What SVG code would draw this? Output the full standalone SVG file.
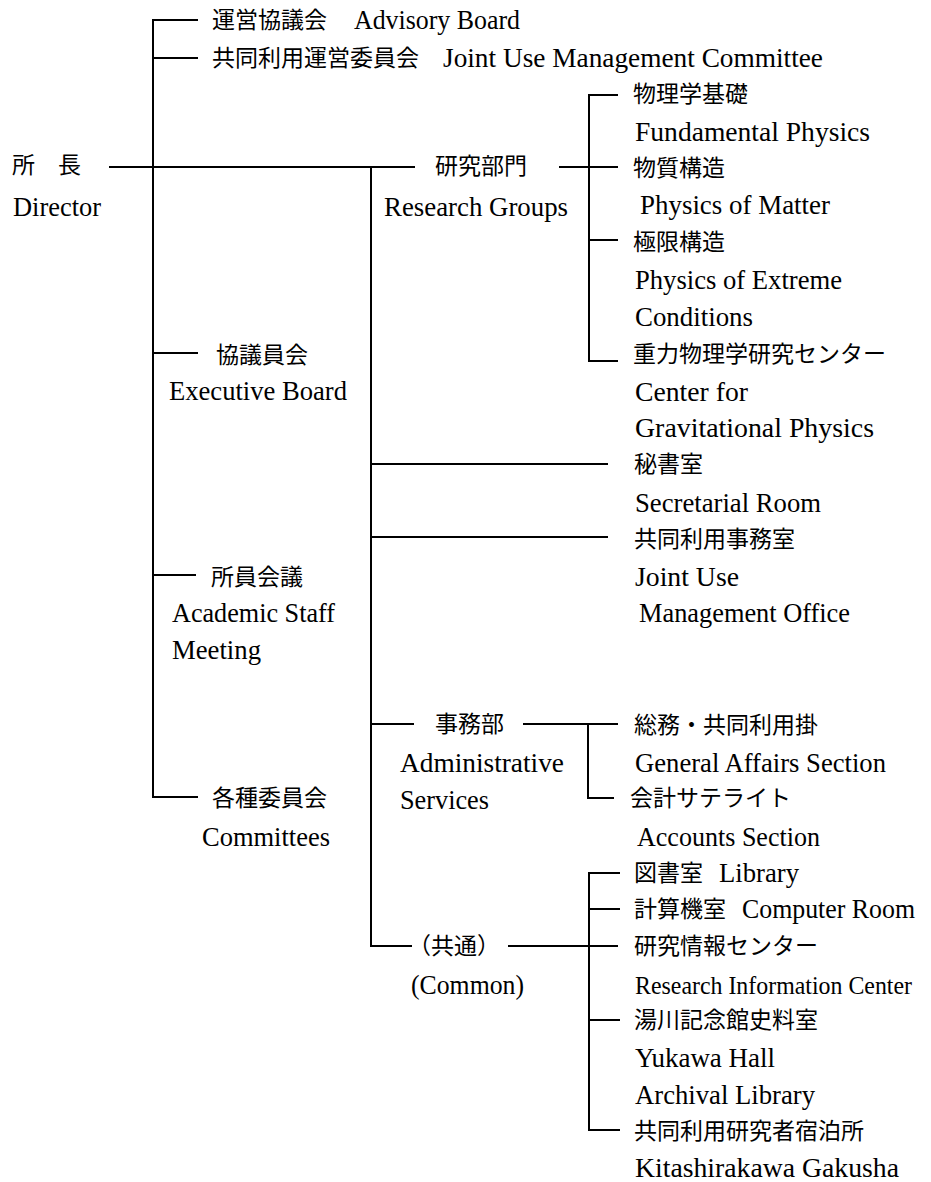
<svg xmlns="http://www.w3.org/2000/svg" width="931" height="1182" viewBox="0 0 931 1182">
<style>
.ln{stroke:#000;stroke-width:2;fill:none;stroke-linecap:square}
text{font-family:"Liberation Serif","Noto Sans CJK JP",serif;fill:#000;dominant-baseline:central}
.j{font-size:23px}
.e{font-size:26.5px}
.c{font-size:24.5px}
</style>
<rect width="931" height="1182" fill="#fff"/>
<g id="connectors">
<path class="ln" d="M197 20H153V797H197"/>
<path class="ln" d="M153 58H197"/>
<path class="ln" d="M153 353H197"/>
<path class="ln" d="M153 575H195"/>
<path class="ln" d="M110 167H414"/>
<path class="ln" d="M371 167V946H411"/>
<path class="ln" d="M560 167H617"/>
<path class="ln" d="M617 95H589V361H617"/>
<path class="ln" d="M589 240H617"/>
<path class="ln" d="M371 464H607"/>
<path class="ln" d="M371 537H607"/>
<path class="ln" d="M371 724H413"/>
<path class="ln" d="M524 724H617"/>
<path class="ln" d="M588 724V798H613"/>
<path class="ln" d="M509 946H617"/>
<path class="ln" d="M619 873H589V1130H619"/>
<path class="ln" d="M589 909H619"/>
<path class="ln" d="M589 1020H619"/>
</g>
<g id="advisory"><text class="j" x="212" y="20">運営協議会</text><text class="e" x="354" y="20" textLength="166" lengthAdjust="spacingAndGlyphs">Advisory Board</text></g>
<g id="joint-committee"><text class="j" x="212" y="58">共同利用運営委員会</text><text class="e" x="443" y="58" textLength="380" lengthAdjust="spacingAndGlyphs">Joint Use Management Committee</text></g>
<g id="director"><text class="j" x="12" y="165">所　長</text><text class="e" x="13" y="207" textLength="88" lengthAdjust="spacingAndGlyphs">Director</text></g>
<g id="research"><text class="j" x="435" y="166">研究部門</text><text class="e" x="384" y="207" textLength="184" lengthAdjust="spacingAndGlyphs">Research Groups</text></g>
<g id="fundamental"><text class="j" x="633" y="94">物理学基礎</text><text class="e" x="635" y="132" textLength="235" lengthAdjust="spacingAndGlyphs">Fundamental Physics</text></g>
<g id="matter"><text class="j" x="633" y="168">物質構造</text><text class="e" x="640" y="205" textLength="190" lengthAdjust="spacingAndGlyphs">Physics of Matter</text></g>
<g id="extreme"><text class="j" x="633" y="242">極限構造</text><text class="e" x="635" y="280" textLength="207" lengthAdjust="spacingAndGlyphs">Physics of Extreme</text><text class="e" x="635" y="317" textLength="118" lengthAdjust="spacingAndGlyphs">Conditions</text></g>
<g id="gravity"><text class="j" x="633" y="354">重力物理学研究センター</text><text class="e" x="635" y="392" textLength="113" lengthAdjust="spacingAndGlyphs">Center for</text><text class="e" x="635" y="428" textLength="239" lengthAdjust="spacingAndGlyphs">Gravitational Physics</text></g>
<g id="executive"><text class="j" x="216" y="355">協議員会</text><text class="e" x="169" y="391" textLength="178" lengthAdjust="spacingAndGlyphs">Executive Board</text></g>
<g id="staff"><text class="j" x="211" y="577">所員会議</text><text class="e" x="172" y="613" textLength="163" lengthAdjust="spacingAndGlyphs">Academic Staff</text><text class="e" x="172" y="650" textLength="89" lengthAdjust="spacingAndGlyphs">Meeting</text></g>
<g id="committees"><text class="j" x="212" y="798">各種委員会</text><text class="e" x="202" y="837" textLength="128" lengthAdjust="spacingAndGlyphs">Committees</text></g>
<g id="secretarial"><text class="j" x="634" y="464">秘書室</text><text class="e" x="635" y="503" textLength="186" lengthAdjust="spacingAndGlyphs">Secretarial Room</text></g>
<g id="joint-office"><text class="j" x="634" y="539">共同利用事務室</text><text class="e" x="635" y="577" textLength="104" lengthAdjust="spacingAndGlyphs">Joint Use</text><text class="e" x="639" y="613" textLength="211" lengthAdjust="spacingAndGlyphs">Management Office</text></g>
<g id="admin"><text class="j" x="435" y="724">事務部</text><text class="e" x="400" y="763" textLength="164" lengthAdjust="spacingAndGlyphs">Administrative</text><text class="e" x="400" y="800" textLength="89" lengthAdjust="spacingAndGlyphs">Services</text></g>
<g id="general-affairs"><text class="j" x="634" y="725">総務・共同利用掛</text><text class="e" x="635" y="763" textLength="251" lengthAdjust="spacingAndGlyphs">General Affairs Section</text></g>
<g id="accounts"><text class="j" x="630" y="798">会計サテライト</text><text class="e" x="637" y="837" textLength="183" lengthAdjust="spacingAndGlyphs">Accounts Section</text></g>
<g id="common"><text class="j" x="408" y="946">（共通）</text><text class="e" x="411" y="985" textLength="113" lengthAdjust="spacingAndGlyphs">(Common)</text></g>
<g id="library"><text class="j" x="634" y="873">図書室</text><text class="e" x="719" y="873" textLength="80" lengthAdjust="spacingAndGlyphs">Library</text></g>
<g id="computer"><text class="j" x="634" y="909">計算機室</text><text class="e" x="742" y="909" textLength="173" lengthAdjust="spacingAndGlyphs">Computer Room</text></g>
<g id="rinfo"><text class="j" x="634" y="946">研究情報センター</text><text class="c" x="635" y="985" textLength="277" lengthAdjust="spacingAndGlyphs">Research Information Center</text></g>
<g id="yukawa"><text class="j" x="634" y="1020">湯川記念館史料室</text><text class="e" x="635" y="1058" textLength="140" lengthAdjust="spacingAndGlyphs">Yukawa Hall</text><text class="e" x="635" y="1095" textLength="180" lengthAdjust="spacingAndGlyphs">Archival Library</text></g>
<g id="lodging"><text class="j" x="634" y="1131">共同利用研究者宿泊所</text><text class="e" x="635" y="1168" textLength="264" lengthAdjust="spacingAndGlyphs">Kitashirakawa Gakusha</text></g>
</svg>
